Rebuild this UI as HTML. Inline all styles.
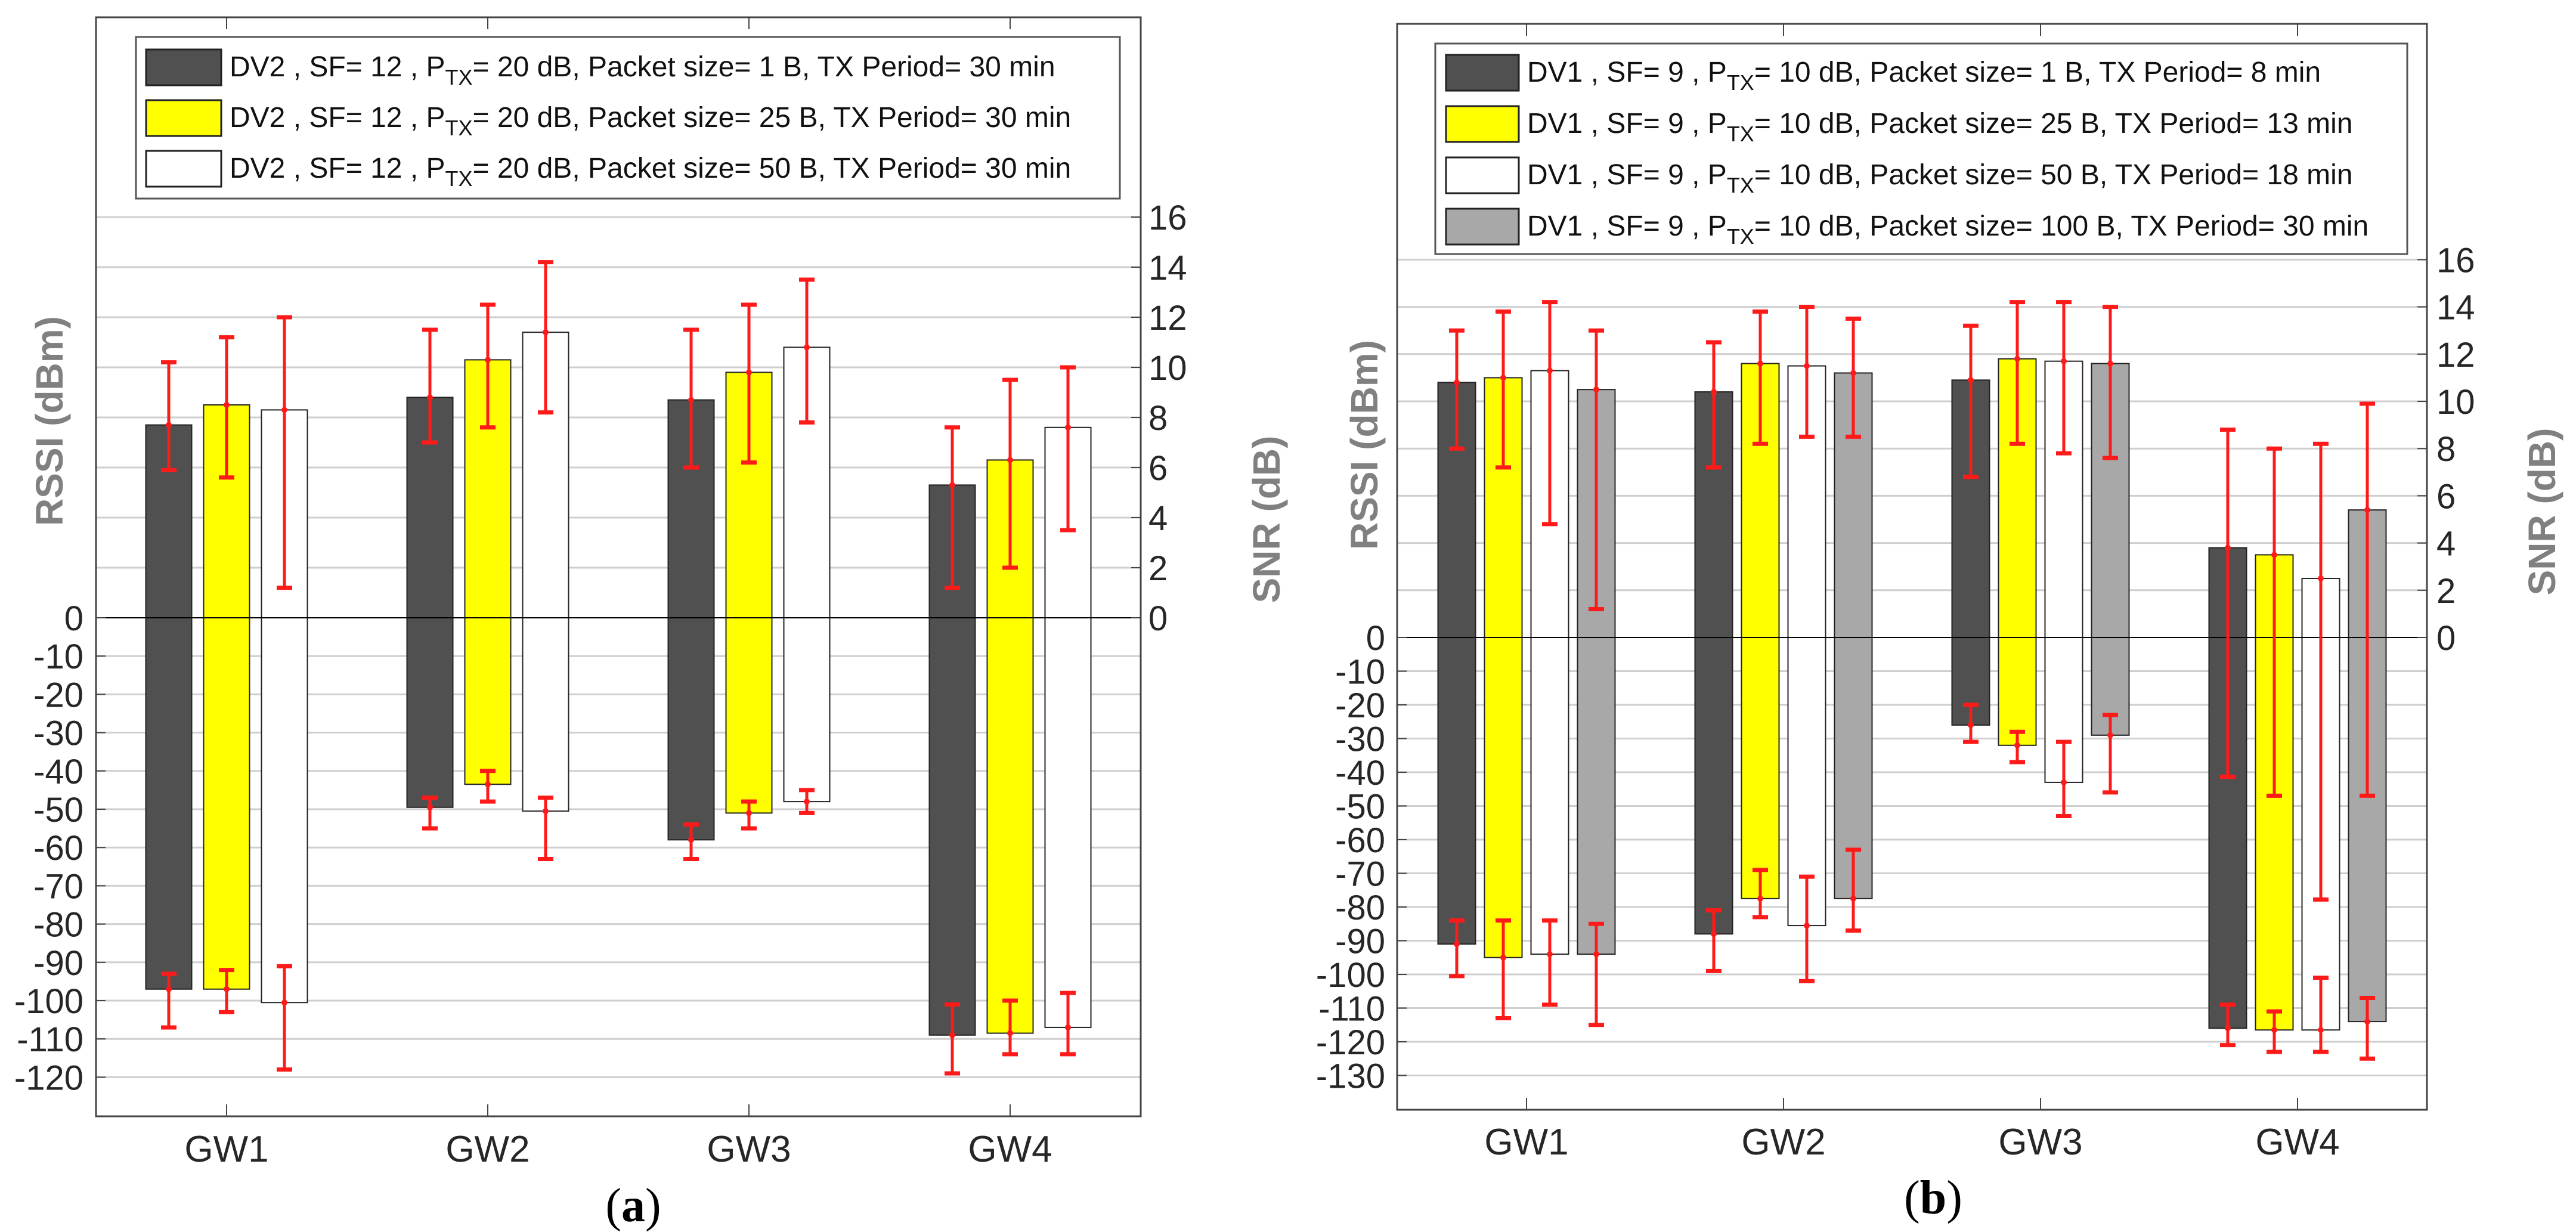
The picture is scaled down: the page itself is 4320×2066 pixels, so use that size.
<!DOCTYPE html>
<html><head><meta charset="utf-8">
<style>
html,body{margin:0;padding:0;background:#fff;}
svg{display:block;font-family:"Liberation Sans",Arial,sans-serif;}
</style></head>
<body>
<svg id="fig" width="4320" height="2066" viewBox="0 0 4320 2066" xmlns="http://www.w3.org/2000/svg"></svg>
<script>
// ---------- Chart (a) data ----------
const catsA = ["GW1","GW2","GW3","GW4"];
const snrA = [[7.7,8.5,8.3],[8.8,10.3,11.4],[8.7,9.8,10.8],[5.3,6.3,7.6]];
const snrLoA = [[5.9,5.6,1.2],[7.0,7.6,8.2],[6.0,6.2,7.8],[1.2,2.0,3.5]];
const snrHiA = [[10.2,11.2,12.0],[11.5,12.5,14.2],[11.5,12.5,13.5],[7.6,9.5,10.0]];
const rssiA = [[-97,-97,-100.5],[-49.5,-43.5,-50.5],[-58,-51,-48],[-109,-108.5,-107]];
const rssiLoA = [[-107,-103,-118],[-55,-48,-63],[-63,-55,-51],[-119,-114,-114]];
const rssiHiA = [[-93,-92,-91],[-47,-40,-47],[-54,-48,-45],[-101,-100,-98]];
const legendA = [
 ["DV2 , SF= 12 , P","= 20 dB, Packet size= 1 B, TX Period= 30 min"],
 ["DV2 , SF= 12 , P","= 20 dB, Packet size= 25 B, TX Period= 30 min"],
 ["DV2 , SF= 12 , P","= 20 dB, Packet size= 50 B, TX Period= 30 min"]];
const rssiTicksA = [0,-10,-20,-30,-40,-50,-60,-70,-80,-90,-100,-110,-120];
const snrTicksA = [0,2,4,6,8,10,12,14,16];

// ---------- Chart (b) data ----------
const catsB = ["GW1","GW2","GW3","GW4"];
const snrB = [[10.8,11.0,11.3,10.5],[10.4,11.6,11.5,11.2],[10.9,11.8,11.7,11.6],[3.8,3.5,2.5,5.4]];
const snrLoB = [[8.0,7.2,4.8,1.2],[7.2,8.2,8.5,8.5],[6.8,8.2,7.8,7.6],[-5.9,-6.7,-11.1,-6.7]];
const snrHiB = [[13.0,13.8,14.2,13.0],[12.5,13.8,14.0,13.5],[13.2,14.2,14.2,14.0],[8.8,8.0,8.2,9.9]];
const rssiB = [[-91,-95,-94,-94],[-88,-77.5,-85.5,-77.5],[-26,-32,-43,-29],[-116,-116.5,-116.5,-114]];
const rssiLoB = [[-100.5,-113,-109,-115],[-99,-83,-102,-87],[-31,-37,-53,-46],[-121,-123,-123,-125]];
const rssiHiB = [[-84,-84,-84,-85],[-81,-69,-71,-63],[-20,-28,-31,-23],[-109,-111,-101,-107]];
const legendB = [
 ["DV1 , SF= 9 , P","= 10 dB, Packet size= 1 B, TX Period= 8 min"],
 ["DV1 , SF= 9 , P","= 10 dB, Packet size= 25 B, TX Period= 13 min"],
 ["DV1 , SF= 9 , P","= 10 dB, Packet size= 50 B, TX Period= 18 min"],
 ["DV1 , SF= 9 , P","= 10 dB, Packet size= 100 B, TX Period= 30 min"]];
const rssiTicksB = [0,-10,-20,-30,-40,-50,-60,-70,-80,-90,-100,-110,-120,-130];
const snrTicksB = [0,2,4,6,8,10,12,14,16];

const colors = ["#505050","#ffff00","#ffffff","#a8a8a8"];
const NS = "http://www.w3.org/2000/svg";
const svg = document.getElementById("fig");
function mk(tag, attrs, parent){
  const e = document.createElementNS(NS, tag);
  for (const k in attrs) e.setAttribute(k, attrs[k]);
  (parent||svg).appendChild(e);
  return e;
}

function drawChart(cfg){
  const g = mk("g", {});
  
  
  const snrY = v => cfg.zero - v*cfg.snrPx;
  const rssiY = v => cfg.zero - v*cfg.rssiPx;
  const gwX = i => cfg.gw0 + i*cfg.gwStep;
  cfg.snrTicks.forEach(t=>{ if(t>0){ const l=mk("line",{x1:cfg.L,x2:cfg.R,y1:snrY(t),y2:snrY(t),stroke:"#cfcfcf","stroke-width":3},g);
      }});
  cfg.rssiTicks.forEach(t=>{ if(t<0){ const l=mk("line",{x1:cfg.L,x2:cfg.R,y1:rssiY(t),y2:rssiY(t),stroke:"#cfcfcf","stroke-width":3},g);
      }});
  cfg.snr.forEach((row,i)=>{
    row.forEach((v,j)=>{
      const cx = gwX(i) + (j-(row.length-1)/2)*cfg.barStep;
      const top = snrY(v), bot = rssiY(cfg.rssi[i][j]);
      const r = mk("rect",{x:cx-cfg.barW/2,y:top,width:cfg.barW,height:bot-top,fill:colors[j],stroke:"#222","stroke-width":2},g);
      
      
    });
  });
  const z = mk("line",{x1:cfg.L,x2:cfg.R,y1:cfg.zero,y2:cfg.zero,stroke:"#000","stroke-width":2},g);
   
  function err(cx, m, lo, hi, nm){
    const eg = mk("g",{stroke:"#ff1a1a","stroke-width":5},g);
    
    
    mk("line",{x1:cx,x2:cx,y1:lo,y2:hi},eg);
    mk("line",{x1:cx-13,x2:cx+13,y1:lo,y2:lo,"stroke-width":7},eg);
    mk("line",{x1:cx-13,x2:cx+13,y1:hi,y2:hi,"stroke-width":7},eg);
    mk("circle",{cx:cx,cy:m,r:5,fill:"#ff1a1a",stroke:"none"},eg);
  }
  cfg.snr.forEach((row,i)=>{
    row.forEach((v,j)=>{
      const cx = gwX(i) + (j-(row.length-1)/2)*cfg.barStep;
      err(cx, snrY(v), snrY(cfg.snrLo[i][j]), snrY(cfg.snrHi[i][j]), 'snr-errorbar');
      err(cx, rssiY(cfg.rssi[i][j]), rssiY(cfg.rssiLo[i][j]), rssiY(cfg.rssiHi[i][j]), 'rssi-errorbar');
    });
  });
  const box = mk("rect",{x:cfg.L,y:cfg.T,width:cfg.R-cfg.L,height:cfg.B-cfg.T,fill:"none",stroke:"#444","stroke-width":3},g);
   
  cfg.cats.forEach((c,i)=>{
    mk("line",{x1:gwX(i),x2:gwX(i),y1:cfg.B,y2:cfg.B-20,stroke:"#444","stroke-width":2},g);
    mk("line",{x1:gwX(i),x2:gwX(i),y1:cfg.T,y2:cfg.T+20,stroke:"#444","stroke-width":2},g);
    const t = mk("text",{x:gwX(i),y:cfg.gwLabelY,"font-size":62,"text-anchor":"middle",fill:"#262626"},g);
    t.textContent = c;
    
    
  });
  cfg.rssiTicks.forEach(v=>{
    mk("line",{x1:cfg.L,x2:cfg.L+16,y1:rssiY(v),y2:rssiY(v),stroke:"#444","stroke-width":2},g);
    const t = mk("text",{x:cfg.leftLabX,y:rssiY(v)+21,"font-size":58,"text-anchor":"end",fill:"#262626"},g);
    t.textContent = v;
    
    
  });
  cfg.snrTicks.forEach(v=>{
    mk("line",{x1:cfg.R,x2:cfg.R-16,y1:snrY(v),y2:snrY(v),stroke:"#444","stroke-width":2},g);
    const t = mk("text",{x:cfg.rightLabX,y:snrY(v)+21,"font-size":58,"text-anchor":"start",fill:"#262626"},g);
    t.textContent = v;
    
    
  });
  const yl = mk("text",{x:0,y:0,"font-size":64,"font-weight":"bold",fill:"#808080","text-anchor":"middle",transform:`translate(${cfg.rssiTitleX},${cfg.rssiTitleY}) rotate(-90)`},g);
  yl.textContent = "RSSI (dBm)";
   
  const yr = mk("text",{x:0,y:0,"font-size":64,"font-weight":"bold",fill:"#808080","text-anchor":"middle",transform:`translate(${cfg.snrTitleX},${cfg.snrTitleY}) rotate(-90)`},g);
  yr.textContent = "SNR (dB)";
   
  const lg = mk("g",{},g);
   
  mk("rect",{x:cfg.lgL,y:cfg.lgT,width:cfg.lgR-cfg.lgL,height:cfg.lgB-cfg.lgT,fill:"#fff",stroke:"#555","stroke-width":3},lg);
  cfg.legend.forEach((txt,k)=>{
    const cy = cfg.lgRow0 + k*cfg.lgRowStep;
    const e = mk("g",{},lg);
    
    
    mk("rect",{x:cfg.swX,y:cy-30,width:cfg.swW,height:60,fill:colors[k],stroke:"#222","stroke-width":3},e);
    const t = mk("text",{x:cfg.swX+cfg.swW+14,y:cy+15,"font-size":48,fill:"#111"},e);
    const s1 = mk("tspan",{},t); s1.textContent = txt[0];
    const s2 = mk("tspan",{dy:14,"font-size":36},t); s2.textContent = "TX";
    const s3 = mk("tspan",{dy:-14},t); s3.textContent = txt[1];
  });
  const pl = mk("text",{x:cfg.panelX,y:cfg.panelY,"font-size":80,"text-anchor":"middle",fill:"#000","font-family":"Liberation Serif, serif"},g);
  const p1 = mk("tspan",{},pl); p1.textContent = "(";
  const p2 = mk("tspan",{"font-weight":"bold"},pl); p2.textContent = cfg.panel;
  const p3 = mk("tspan",{},pl); p3.textContent = ")";
   
}

drawChart({name:"chart-a", cats:catsA, snr:snrA, snrLo:snrLoA, snrHi:snrHiA, rssi:rssiA, rssiLo:rssiLoA, rssiHi:rssiHiA,
  legend:legendA, rssiTicks:rssiTicksA, snrTicks:snrTicksA,
  L:161,R:1913,T:29,B:1872, zero:1036, snrPx:42, rssiPx:6.42,
  gw0:380, gwStep:438, barStep:97, barW:77, gwLabelY:1948,
  leftLabX:140, rightLabX:1926, rssiTitleX:105, rssiTitleY:706, snrTitleX:2146, snrTitleY:871,
  lgL:228,lgR:1878,lgT:62,lgB:333, lgRow0:113, lgRowStep:85, swX:245, swW:126,
  panel:"a", panelX:1062, panelY:2048});
drawChart({name:"chart-b", cats:catsB, snr:snrB, snrLo:snrLoB, snrHi:snrHiB, rssi:rssiB, rssiLo:rssiLoB, rssiHi:rssiHiB,
  legend:legendB, rssiTicks:rssiTicksB, snrTicks:snrTicksB,
  L:2343,R:4070,T:40,B:1861, zero:1069, snrPx:39.6, rssiPx:5.65,
  gw0:2560, gwStep:431, barStep:78, barW:63, gwLabelY:1936,
  leftLabX:2323, rightLabX:4086, rssiTitleX:2310, rssiTitleY:746, snrTitleX:4285, snrTitleY:858,
  lgL:2407,lgR:4037,lgT:73,lgB:426, lgRow0:122, lgRowStep:86, swX:2425, swW:122,
  panel:"b", panelX:3242, panelY:2035});
</script>
</body></html>
